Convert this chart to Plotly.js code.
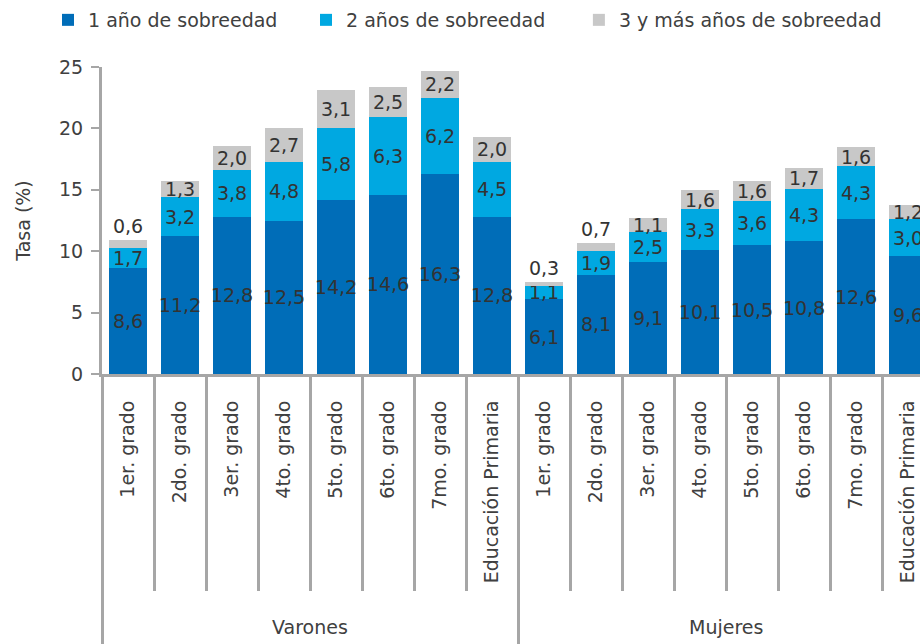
<!DOCTYPE html>
<html>
<head>
<meta charset="utf-8">
<script src="https://cdn.plot.ly/plotly-3.0.1.min.js"></script>
<style>html,body{margin:0;padding:0;background:#fff;}#chart{width:920px;height:644px;}</style>
</head>
<body>
<div id="chart"></div>
<script>
var groups = ["Varones","Varones","Varones","Varones","Varones","Varones","Varones","Varones",
              "Mujeres","Mujeres","Mujeres","Mujeres","Mujeres","Mujeres","Mujeres","Mujeres"];
var grades = ["1er. grado","2do. grado","3er. grado","4to. grado","5to. grado","6to. grado","7mo. grado","Educación Primaria",
              "1er. grado","2do. grado","3er. grado","4to. grado","5to. grado","6to. grado","7mo. grado","Educación Primaria"];
var seriesNames = ["1 año de sobreedad","2 años de sobreedad","3 y más años de sobreedad"];
var unAnio   = [8.6, 11.2, 12.8, 12.5, 14.2, 14.6, 16.3, 12.8, 6.1, 8.1, 9.1, 10.1, 10.5, 10.8, 12.6, 9.6];
var dosAnios = [1.7, 3.2, 3.8, 4.8, 5.8, 6.3, 6.2, 4.5, 1.1, 1.9, 2.5, 3.3, 3.6, 4.3, 4.3, 3.0];
var tresMas  = [0.6, 1.3, 2.0, 2.7, 3.1, 2.5, 2.2, 2.0, 0.3, 0.7, 1.1, 1.6, 1.6, 1.7, 1.6, 1.2];
var yTicks = [0, 5, 10, 15, 20, 25];

var colors = ["#006DB8", "#00A8E1", "#C8C8C8"];
var txtColor = "#333333";
var labelColor = "#404040";
var fontFam = "DejaVu Sans, sans-serif";
var fs = 19;
var legendIds = ["legend", "legend2", "legend3"];
var legendX = [-0.066, 0.2494, 0.583];

// category positions on the x scale
var idx = grades.map(function(g, i){ return i; });

function barTrace(vals, i, positions) {
  return {
    type: "bar",
    name: seriesNames[i],
    legend: legendIds[i],
    x: idx,
    y: vals,
    customdata: groups,
    marker: {color: colors[i], line: {width: 0}},
    texttemplate: "%{y:.1f}",
    textposition: positions,
    constraintext: "none",
    textangle: 0,
    cliponaxis: false,
    insidetextanchor: "middle",
    textfont: {family: fontFam, size: fs, color: txtColor},
    insidetextfont: {family: fontFam, size: fs, color: txtColor},
    outsidetextfont: {family: fontFam, size: fs, color: txtColor},
    hoverinfo: "skip"
  };
}
var grayPos = tresMas.map(function(v){ return v < 1 ? "outside" : "inside"; });

// boundaries between categories and between groups (axis decoration)
var bounds = [], groupBounds = [-0.5];
for (var k = 0; k < grades.length - 1; k++) {
  if (groups[k] !== groups[k + 1]) groupBounds.push(k + 0.5);
  else bounds.push(k + 0.5);
}
// group label annotations at group centres
var groupNames = [], groupCenters = [];
groups.forEach(function(g, i){
  var j = groupNames.indexOf(g);
  if (j < 0) { groupNames.push(g); groupCenters.push([i, i]); }
  else groupCenters[j][1] = i;
});
var axisGray = "#A6A6A6";
var annotations = groupNames.map(function(g, j){
  return {
    text: g, xref: "x", yref: "paper",
    x: (groupCenters[j][0] + groupCenters[j][1]) / 2, y: -0.825,
    xanchor: "center", yanchor: "middle", showarrow: false,
    font: {family: fontFam, size: fs, color: labelColor}
  };
});

var data = [
  barTrace(unAnio, 0, "inside"),
  barTrace(dosAnios, 1, "inside"),
  barTrace(tresMas, 2, grayPos),
  {type: "scatter", x: [], y: [], xaxis: "x2", yaxis: "y", showlegend: false, hoverinfo: "skip"},
  {type: "scatter", x: [], y: [], xaxis: "x3", yaxis: "y", showlegend: false, hoverinfo: "skip"}
];

function legendCfg(i) {
  return {
    orientation: "h", x: legendX[i], xanchor: "left", y: 1.215, yanchor: "top",
    font: {family: fontFam, size: fs, color: labelColor},
    bgcolor: "rgba(0,0,0,0)", itemclick: false
  };
}

var xr = [-0.5, 15.23];
var layout = {
  width: 920, height: 644,
  margin: {l: 102, r: 0, t: 67, b: 270},
  paper_bgcolor: "#fff", plot_bgcolor: "#fff",
  separators: ",.",
  barmode: "stack",
  bargap: 0.27,
  font: {family: fontFam, size: fs, color: labelColor},
  showlegend: true,
  legend: legendCfg(0),
  legend2: legendCfg(1),
  legend3: legendCfg(2),
  annotations: annotations,
  xaxis: {
    type: "linear", range: xr,
    tickmode: "array", tickvals: idx, ticktext: grades,
    showline: true, linecolor: axisGray, linewidth: 3,
    ticks: "outside", ticklen: 16, tickwidth: 1, tickcolor: "rgba(0,0,0,0)",
    tickangle: -90,
    tickfont: {family: fontFam, size: fs, color: labelColor},
    showgrid: false, zeroline: false, fixedrange: true
  },
  xaxis2: {
    overlaying: "x", anchor: "y", side: "bottom",
    type: "linear", range: xr,
    tickmode: "array", tickvals: bounds, showticklabels: false,
    ticks: "outside", ticklen: 216, tickwidth: 3, tickcolor: axisGray,
    showline: false, showgrid: false, zeroline: false, fixedrange: true
  },
  xaxis3: {
    overlaying: "x", anchor: "y", side: "bottom",
    type: "linear", range: xr,
    tickmode: "array", tickvals: groupBounds, showticklabels: false,
    ticks: "outside", ticklen: 272, tickwidth: 3, tickcolor: axisGray,
    showline: false, showgrid: false, zeroline: false, fixedrange: true
  },
  yaxis: {
    range: [0, 25],
    tickmode: "array", tickvals: yTicks,
    showline: true, linecolor: axisGray, linewidth: 3,
    ticks: "outside", ticklen: 8, tickwidth: 2, tickcolor: axisGray,
    ticklabelstandoff: 4,
    showgrid: false, zeroline: false,
    tickfont: {family: fontFam, size: fs, color: labelColor},
    title: {text: "Tasa (%)", standoff: 24, font: {family: fontFam, size: fs, color: labelColor}},
    fixedrange: true
  }
};

Plotly.newPlot("chart", data, layout, {displayModeBar: false, staticPlot: true});
</script>
</body>
</html>
